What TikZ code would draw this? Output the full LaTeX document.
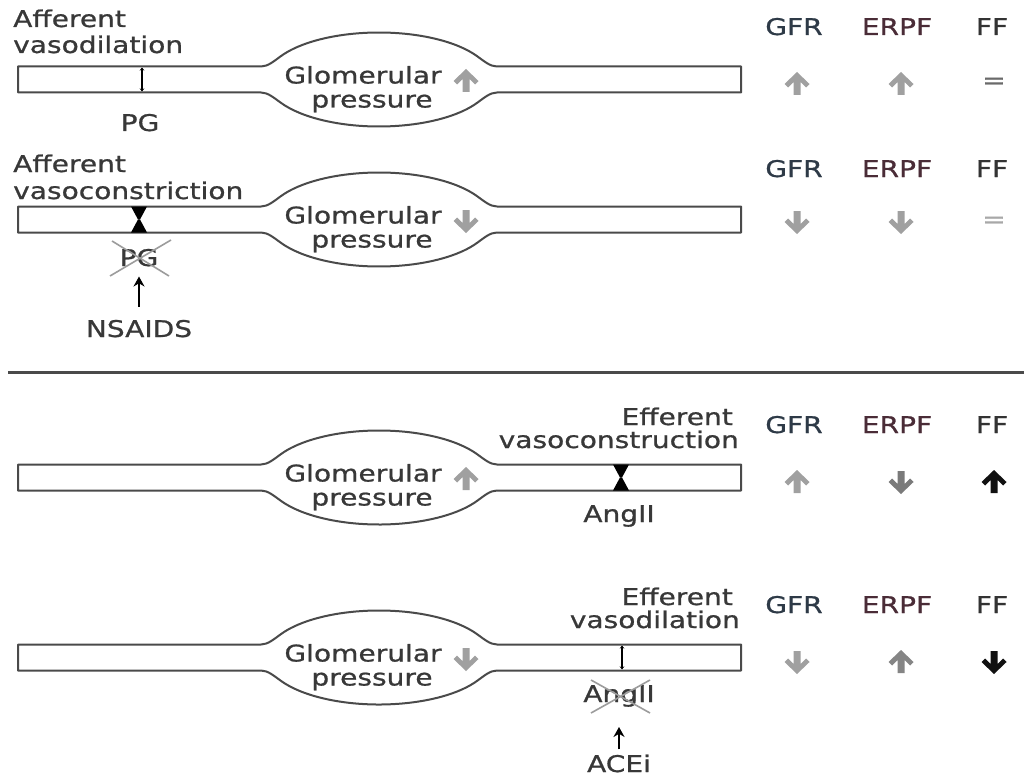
\documentclass[tikz,border=0pt]{standalone}
\usepackage{fontspec}
\setmainfont{DejaVu Sans}[FakeStretch=1.22,FakeBold=0.8]
\usetikzlibrary{arrows.meta}
\definecolor{txt}{HTML}{383838}
\definecolor{wall}{HTML}{4A4A4A}
\definecolor{arrg}{HTML}{A0A0A0}
\definecolor{arrd}{HTML}{7A7A7A}
\definecolor{arrk}{HTML}{111111}
\definecolor{gfrc}{HTML}{2E3A47}
\definecolor{erpfc}{HTML}{4A2C37}
\definecolor{ffc}{HTML}{333333}
\definecolor{eqa}{HTML}{6A6A6A}
\definecolor{eqb}{HTML}{A8A8A8}
\definecolor{xcol}{HTML}{9C9C9C}
\tikzset{
  lbl/.style={anchor=base west},
  ctr/.style={anchor=base},
  rgt/.style={anchor=base east},
  vline/.style={draw=wall, line width=2pt, fill=white, line join=round},
  xl/.style={draw=xcol, line width=1.6pt},
  conn/.style={draw=black, line width=2.2pt, -{Stealth[length=10pt,width=11pt]}},
  vessel/.pic={
    \path[vline] (-361,-13) -- (-118,-13) .. controls (-111,-13) and (-104.9,-18.5) .. (-97.9,-23.5)
      arc[start angle=210, end angle=330, x radius=113, y radius=47]
      .. controls (104.9,-18.5) and (111,-13) .. (118,-13) -- (362,-13) -- (362,13) -- (118,13)
      .. controls (111,13) and (104.9,18.5) .. (97.9,23.5)
      arc[start angle=30, end angle=150, x radius=113, y radius=47]
      .. controls (-104.9,18.5) and (-111,13) .. (-118,13) -- (-361,13) -- cycle;
  },
  uparrow/.pic={
    \fill[pic actions] (-3.5,11) -- (-3.5,-2) -- (-9,3.5) -- (-12.5,0) -- (0,-12) -- (12.5,0) -- (9,3.5) -- (3.5,-2) -- (3.5,11) -- cycle;
  },
  downarrow/.pic={
    \fill[pic actions] (-3.5,-11) -- (-3.5,2) -- (-9,-3.5) -- (-12.5,0) -- (0,12) -- (12.5,0) -- (9,-3.5) -- (3.5,2) -- (3.5,-11) -- cycle;
  },
  hourglass/.pic={
    \fill[black] (-8,-13) -- (8,-13) -- (1,0) -- (-1,0) -- cycle;
    \fill[black] (-8,13) -- (8,13) -- (1,0) -- (-1,0) -- cycle;
  },
  dilate/.pic={
    \draw[black, line width=1.3pt, {Stealth[length=3pt,width=4.5pt]}-{Stealth[length=3pt,width=4.5pt]}] (0,-12) -- (0,12);
  }
}
\begin{document}
\begin{tikzpicture}[x=1pt,y=-1pt,
  every node/.style={inner sep=0pt, text=txt, font=\fontsize{23}{26}\selectfont}]
\useasboundingbox[fill=white] (0,0) rectangle (1024,778);

% ---------- Row 1 : afferent vasodilation ----------
\node[lbl] (aff1) at (13,27) {Afferent};
\node[lbl] (vd1) at (13,53) {vasodilation};
\pic at (379,79.5) {vessel};
\pic at (142,79.5) {dilate};
\node[ctr] (g1) at (363,83.5) {Glomerular};
\node[ctr] (p1) at (372,107.5) {pressure};
\pic[fill=arrg] at (466,81) {uparrow};
\node[ctr] (pg1) at (140,131) {PG};
\node[ctr,text=gfrc] (gfr1) at (794,35) {GFR};
\node[ctr,text=erpfc] (erpf1) at (897,35) {ERPF};
\node[ctr,text=ffc] (ff1) at (992,35) {FF};
\pic[fill=arrg] at (797,84) {uparrow};
\pic[fill=arrg] at (901,84) {uparrow};
\node[text=eqa] (eq1) at (994,83) {=};

% ---------- Row 2 : afferent vasoconstriction ----------
\node[lbl] (aff2) at (13,172) {Afferent};
\node[lbl] (vc2) at (13,199) {vasoconstriction};
\pic at (379,219.5) {vessel};
\pic at (139,219.5) {hourglass};
\node[ctr] (g2) at (363,223.5) {Glomerular};
\node[ctr] (p2) at (372,247.5) {pressure};
\pic[fill=arrg] at (466,221) {downarrow};
\node[ctr] (pg2) at (139,266) {PG};
\draw[xl] (112,241) -- (169,276);
\draw[xl] (110,276) -- (171,240);
\node[ctr] (nsaids) at (139,337) {NSAIDS};
\draw[conn, shorten <=13pt, shorten >=10pt] (nsaids.north) -- (nsaids.north |- pg2.south);
\node[ctr,text=gfrc] (gfr2) at (794,177) {GFR};
\node[ctr,text=erpfc] (erpf2) at (897,177) {ERPF};
\node[ctr,text=ffc] (ff2) at (992,177) {FF};
\pic[fill=arrg] at (797,222) {downarrow};
\pic[fill=arrg] at (901,222) {downarrow};
\node[text=eqb] (eq2) at (994,222) {=};

% ---------- separator ----------
\draw[draw=wall, line width=3pt] (8,372) -- (1024,372);

% ---------- Row 3 : efferent vasoconstriction ----------
\node[rgt] (eff3) at (733,425) {Efferent};
\node[rgt] (vc3) at (739,448) {vasoconstruction};
\pic at (379,477.5) {vessel};
\pic at (621,477.5) {hourglass};
\node[ctr] (g3) at (363,481.5) {Glomerular};
\node[ctr] (p3) at (372,505.5) {pressure};
\pic[fill=arrg] at (466,479) {uparrow};
\node[ctr] (ang3) at (619,522) {AngII};
\node[ctr,text=gfrc] (gfr3) at (794,433) {GFR};
\node[ctr,text=erpfc] (erpf3) at (897,433) {ERPF};
\node[ctr,text=ffc] (ff3) at (992,433) {FF};
\pic[fill=arrg] at (797,482) {uparrow};
\pic[fill=arrd] at (901,482) {downarrow};
\pic[fill=arrk] at (994,482) {uparrow};

% ---------- Row 4 : efferent vasodilation ----------
\node[rgt] (eff4) at (733,605) {Efferent};
\node[rgt] (vd4) at (740,628) {vasodilation};
\pic at (379,657.5) {vessel};
\pic at (622,657.5) {dilate};
\node[ctr] (g4) at (363,661.5) {Glomerular};
\node[ctr] (p4) at (372,685.5) {pressure};
\pic[fill=arrg] at (466,659) {downarrow};
\node[ctr] (ang4) at (619,702) {AngII};
\draw[xl] (591,680) -- (650,713);
\draw[xl] (591,713) -- (650,680);
\node[ctr] (acei) at (619,772) {ACEi};
\draw[conn, shorten <=5pt, shorten >=20pt] (acei.north) -- (acei.north |- ang4.south);
\node[ctr,text=gfrc] (gfr4) at (794,613) {GFR};
\node[ctr,text=erpfc] (erpf4) at (897,613) {ERPF};
\node[ctr,text=ffc] (ff4) at (992,613) {FF};
\pic[fill=arrg] at (797,662) {downarrow};
\pic[fill=arrd!70!arrg] at (901,662) {uparrow};
\pic[fill=arrk] at (994,662) {downarrow};
\end{tikzpicture}
\end{document}
